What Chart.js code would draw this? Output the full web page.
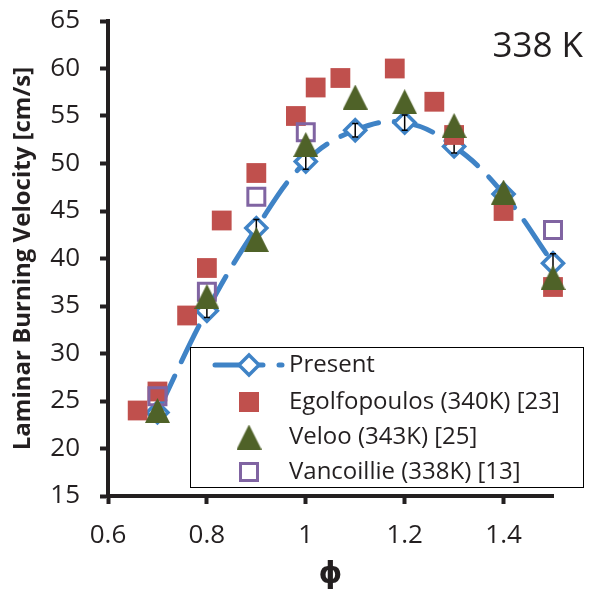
<!DOCTYPE html>
<html lang="en">
<head>
<meta charset="UTF-8">
<title>Laminar Burning Velocity 338 K</title>
<script src="https://cdn.jsdelivr.net/npm/chart.js"></script>
<style>
  body { margin: 0; background: #fff; }
  #wrap { width: 589px; height: 594px; }
</style>
</head>
<body>
<div id="wrap"><canvas id="chart"></canvas></div>
<script>
// Present (simulation) with error bars
const presentPhi = [0.7, 0.8, 0.9, 1.0, 1.1, 1.2, 1.3, 1.4, 1.5];
const presentSL  = [23.8, 34.5, 43.2, 50.2, 53.5, 54.3, 51.8, 46.8, 39.5];
const presentErr = [0.8, 0.7, 0.9, 0.8, 0.7, 0.8, 0.7, 0.6, 1.0];

// Egolfopoulos (340K) [23]
const egoPhi = [0.66, 0.7, 0.76, 0.8, 0.83, 0.9, 0.98, 1.02, 1.07, 1.18, 1.26, 1.3, 1.4, 1.5];
const egoSL  = [24, 26, 34, 39, 44, 49, 55, 58, 59, 60, 56.5, 53, 45, 37];

// Veloo (343K) [25]
const velooPhi = [0.7, 0.8, 0.9, 1.0, 1.1, 1.2, 1.3, 1.4, 1.5];
const velooSL  = [24, 36, 42, 52, 57, 56.5, 54, 47, 38];

// Vancoillie (338K) [13]
const vanPhi = [0.7, 0.8, 0.9, 1.0, 1.5];
const vanSL  = [25.5, 36.5, 46.5, 53.3, 43];

const seriesNames = ['Present', 'Egolfopoulos (340K) [23]', 'Veloo (343K) [25]', 'Vancoillie (338K) [13]'];

const xTicks = [0.6, 0.8, 1.0, 1.2, 1.4];
const xTickLabels = ['0.6', '0.8', '1', '1.2', '1.4'];
const yTicks = [15, 20, 25, 30, 35, 40, 45, 50, 55, 60, 65];
const yTickLabels = ['15', '20', '25', '30', '35', '40', '45', '50', '55', '60', '65'];

const blue = '#3f83c6', red = '#c0504d', green = '#4f6228', purple = '#8064a2';
const ink = '#231f20';
const fontFamily = '"Open Sans", "DejaVu Sans", sans-serif';

function toPoints(xs, ys) {
    return xs.map((x, i) => ({ x: x, y: ys[i] }));
}

// triangle marker centred on its box (like the spreadsheet markers)
function makeTriangle(w, h, color) {
    const c = document.createElement('canvas');
    c.width = w; c.height = h;
    const g = c.getContext('2d');
    g.fillStyle = color;
    g.beginPath();
    g.moveTo(w / 2, 0);
    g.lineTo(w, h);
    g.lineTo(0, h);
    g.closePath();
    g.fill();
    return c;
}
const triangle = makeTriangle(25, 25, green);

// error bars on the Present series, drawn right after it
const errorBars = {
    id: 'errorBars',
    afterDatasetDraw(chart, args) {
        if (args.index !== 0) return;
        const ctx = chart.ctx, xs = chart.scales.x, ys = chart.scales.y;
        ctx.save();
        ctx.strokeStyle = '#000';
        ctx.lineWidth = 1.5;
        presentPhi.forEach((p, i) => {
            const px = xs.getPixelForValue(p);
            const top = ys.getPixelForValue(presentSL[i] + presentErr[i]);
            const bot = ys.getPixelForValue(presentSL[i] - presentErr[i]);
            ctx.beginPath();
            ctx.moveTo(px, top); ctx.lineTo(px, bot);
            ctx.moveTo(px - 3, top); ctx.lineTo(px + 3, top);
            ctx.moveTo(px - 3, bot); ctx.lineTo(px + 3, bot);
            ctx.stroke();
        });
        ctx.restore();
    }
};

// boxed legend inside the plot and the temperature label
const boxLegend = {
    id: 'boxLegend',
    afterDraw(chart) {
        const ctx = chart.ctx;
        ctx.save();
        ctx.fillStyle = '#fff';
        ctx.fillRect(190, 347, 394, 141);
        ctx.strokeStyle = '#000';
        ctx.lineWidth = 1;
        ctx.strokeRect(190.5, 347.5, 393, 140);

        const mx = 249, tx = 289;
        const rows = [365, 402, 437, 472];

        // Present: dashed line + diamond
        ctx.strokeStyle = blue;
        ctx.lineWidth = 5;
        ctx.lineCap = 'round';
        ctx.setLineDash([48, 16]);
        ctx.beginPath();
        ctx.moveTo(215, rows[0]); ctx.lineTo(282, rows[0]);
        ctx.stroke();
        ctx.setLineDash([]);
        ctx.lineWidth = 3.5;
        ctx.fillStyle = '#fff';
        ctx.beginPath();
        ctx.moveTo(mx, rows[0] - 10); ctx.lineTo(mx + 10, rows[0]);
        ctx.lineTo(mx, rows[0] + 10); ctx.lineTo(mx - 10, rows[0]);
        ctx.closePath();
        ctx.fill(); ctx.stroke();

        // Egolfopoulos: filled square
        ctx.fillStyle = red;
        ctx.fillRect(mx - 10, rows[1] - 10, 20, 20);

        // Veloo: triangle
        ctx.drawImage(triangle, mx - 12.5, rows[2] - 12.5);

        // Vancoillie: open square
        ctx.strokeStyle = purple;
        ctx.lineWidth = 3;
        ctx.fillStyle = '#fff';
        ctx.fillRect(mx - 8.5, rows[3] - 8.5, 17, 17);
        ctx.strokeRect(mx - 8.5, rows[3] - 8.5, 17, 17);

        ctx.fillStyle = ink;
        ctx.font = '24px ' + fontFamily;
        ctx.textBaseline = 'middle';
        ctx.textAlign = 'left';
        seriesNames.forEach((n, i) => ctx.fillText(n, tx, rows[i]));

        ctx.font = '35px ' + fontFamily;
        ctx.textAlign = 'right';
        ctx.fillText('338 K', 583, 47);
        ctx.restore();
    }
};

const tickFont = { family: fontFamily, size: 26 };

new Chart(document.getElementById('chart'), {
    type: 'scatter',
    data: {
        datasets: [
            {
                label: seriesNames[0],
                data: toPoints(presentPhi, presentSL),
                showLine: true,
                clip: false,
                tension: 0.4,
                borderColor: blue,
                borderWidth: 5,
                borderDash: [40, 16],
                borderCapStyle: 'round',
                pointStyle: 'rectRot',
                pointRadius: 10.5,
                pointBorderWidth: 3.5,
                pointBorderColor: blue,
                pointBackgroundColor: '#fff',
                order: 4
            },
            {
                label: seriesNames[1],
                data: toPoints(egoPhi, egoSL),
                clip: false,
                pointStyle: 'rect',
                pointRadius: 14,
                pointBorderWidth: 0,
                pointBackgroundColor: red,
                borderColor: red,
                order: 3
            },
            {
                label: seriesNames[2],
                data: toPoints(velooPhi, velooSL),
                clip: false,
                pointStyle: triangle,
                pointRadius: 13,
                borderColor: green,
                order: 1
            },
            {
                label: seriesNames[3],
                data: toPoints(vanPhi, vanSL),
                clip: false,
                pointStyle: 'rect',
                pointRadius: 12,
                pointBorderWidth: 3,
                pointBorderColor: purple,
                pointBackgroundColor: 'rgba(255,255,255,0)',
                borderColor: purple,
                order: 2
            }
        ]
    },
    options: {
        responsive: true,
        maintainAspectRatio: false,
        animation: false,
        events: [],
        layout: { padding: { top: 21, right: 36, left: 0, bottom: 0 } },
        plugins: {
            legend: { display: false },
            tooltip: { enabled: false }
        },
        scales: {
            x: {
                type: 'linear',
                min: 0.6,
                max: 1.5,
                afterBuildTicks: s => { s.ticks = xTicks.map(v => ({ value: v })); },
                afterFit: s => { s.height = 98; s.paddingLeft = 0; s.paddingRight = 0; },
                ticks: {
                    callback: (v, i) => xTickLabels[i],
                    font: tickFont,
                    color: ink,
                    padding: 16,
                    maxRotation: 0,
                    autoSkip: false
                },
                grid: { drawOnChartArea: false, tickLength: 8, tickWidth: 4, tickColor: ink },
                border: { width: 4, color: ink },
                title: {
                    display: true,
                    text: 'ϕ',
                    color: ink,
                    font: { family: fontFamily, size: 30, weight: 'bold' },
                    padding: { top: 0, bottom: 2 }
                }
            },
            y: {
                type: 'linear',
                min: 15,
                max: 65,
                afterBuildTicks: s => { s.ticks = yTicks.map(v => ({ value: v })); },
                afterFit: s => { s.width = 108; s.paddingTop = 0; s.paddingBottom = 0; },
                ticks: {
                    callback: (v, i) => yTickLabels[i],
                    font: tickFont,
                    color: ink,
                    padding: 20,
                    autoSkip: false
                },
                grid: { drawOnChartArea: false, tickLength: 8, tickWidth: 4, tickColor: ink },
                border: { width: 4, color: ink },
                title: {
                    display: true,
                    text: 'Laminar Burning Velocity [cm/s]',
                    color: ink,
                    font: { family: fontFamily, size: 24, weight: 'bold' },
                    padding: { top: 9, bottom: 0 }
                }
            }
        }
    },
    plugins: [errorBars, boxLegend]
});
</script>
</body>
</html>
